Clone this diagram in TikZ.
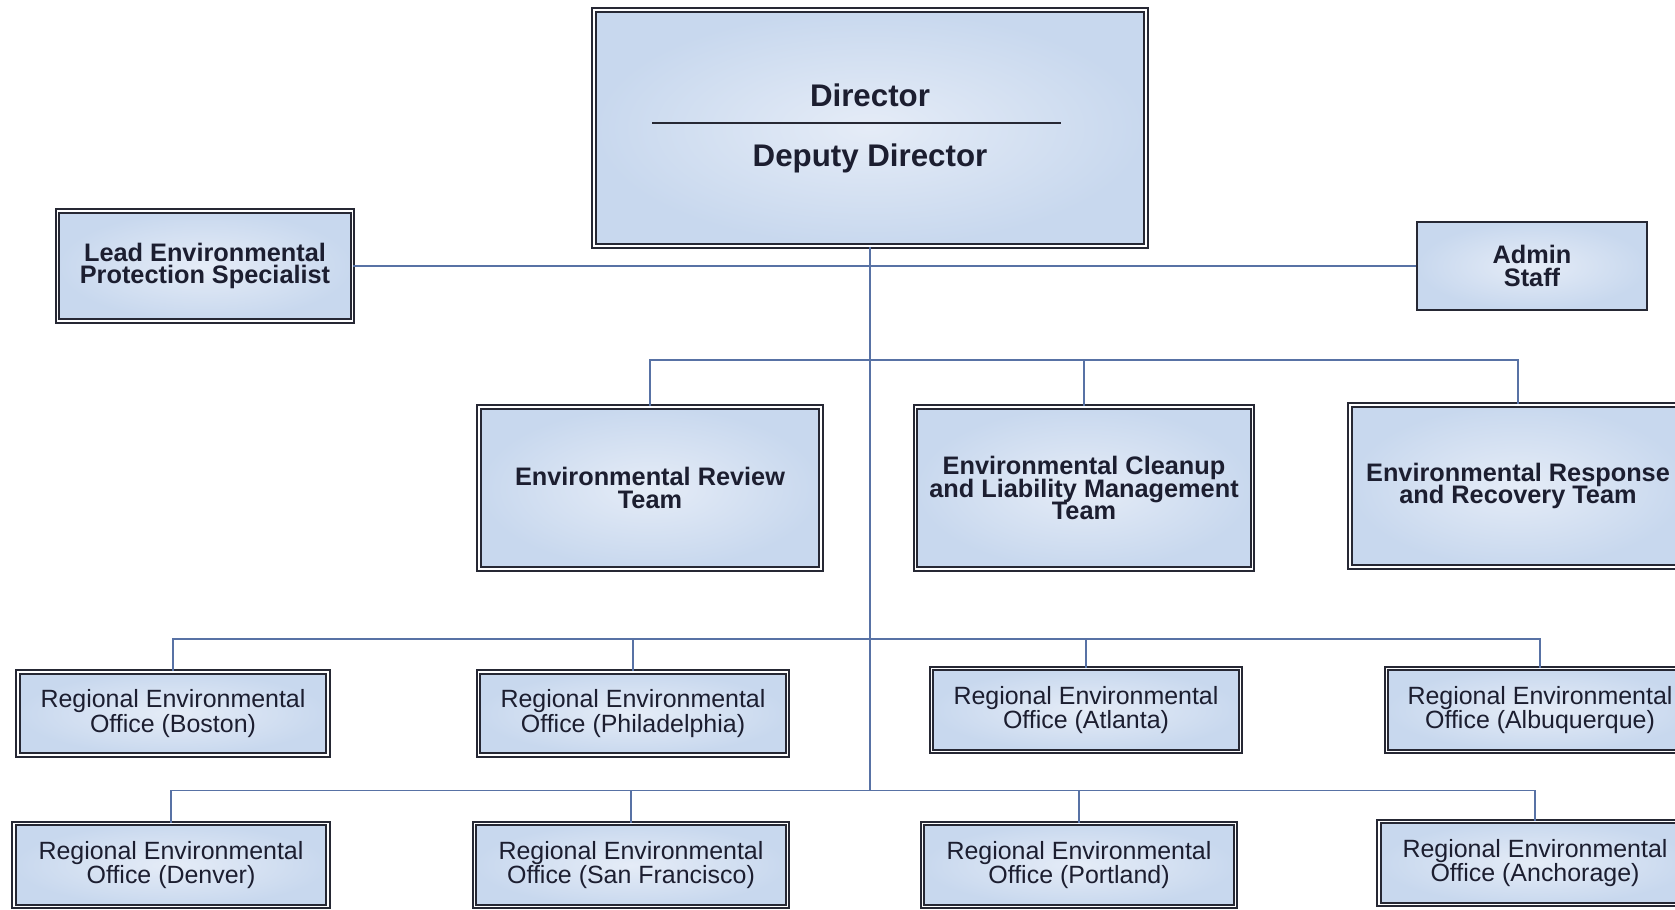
\documentclass[tikz,border=0pt]{standalone}
\usepackage{fontspec}
\setmainfont{Liberation Sans}
\definecolor{boxedge}{RGB}{38,40,52}
\definecolor{boxin}{RGB}{229,236,247}
\definecolor{boxout}{RGB}{200,216,238}
\definecolor{connblue}{RGB}{88,114,165}
\definecolor{inktext}{RGB}{28,30,48}
\newcommand\tightlines{\lineskiplimit=-20pt\relax}
\tikzset{
  orgbox/.style={draw=boxedge, line width=0.5pt, double=white, double distance=0.45pt,
    inner color=boxin, outer color=boxout, align=center, text=inktext, inner sep=1pt},
  plainbox/.style={draw=boxedge, line width=0.6pt,
    inner color=boxin, outer color=boxout, align=center, text=inktext, inner sep=1pt},
  teamfont/.style={font=\fontsize{7.2}{6.3}\selectfont\bfseries\tightlines},
  officefont/.style={font=\fontsize{7.1}{7.0}\selectfont\tightlines},
  conn/.style={draw=connblue, line width=0.45pt}
}
\begin{document}
\begin{tikzpicture}
\clip (0,0) rectangle (16.75,-9.10);
\fill[white] (0,0) rectangle (16.75,-9.10);
% top of the chart
\node[orgbox, minimum width=5.52cm, minimum height=2.36cm] (dir) at (8.70,-1.28) {};
\node[text=inktext, font=\fontsize{8.9}{10}\selectfont\bfseries] (dirname) at (8.70,-0.95) {Director};
\node[text=inktext, font=\fontsize{8.9}{10}\selectfont\bfseries] (depname) at (8.70,-1.58) {Deputy Director};
\draw[boxedge, line width=0.6pt] (6.52,-1.23) -- (10.61,-1.23);
\node[orgbox, teamfont, minimum width=2.95cm, minimum height=1.10cm] (lead) at (2.05,-2.66) {Lead Environmental\\Protection Specialist};
\node[plainbox, teamfont, minimum width=2.30cm, minimum height=0.88cm] (admin) at (15.32,-2.66) {Admin\\Staff};
% teams
\node[orgbox, teamfont, minimum width=3.42cm, minimum height=1.62cm] (review) at (6.50,-4.88) {Environmental Review\\Team};
\node[orgbox, teamfont, minimum width=3.37cm, minimum height=1.62cm] (cleanup) at (10.84,-4.88) {Environmental Cleanup\\and Liability Management\\Team};
\node[orgbox, teamfont, minimum width=3.36cm, minimum height=1.62cm] (response) at (15.18,-4.86) {Environmental Response\\and Recovery Team};
% regional offices
\node[orgbox, officefont, minimum width=3.10cm, minimum height=0.83cm] (boston) at (1.73,-7.135) {Regional Environmental\\Office (Boston)};
\node[orgbox, officefont, minimum width=3.09cm, minimum height=0.83cm] (phila) at (6.33,-7.135) {Regional Environmental\\Office (Philadelphia)};
\node[orgbox, officefont, minimum width=3.09cm, minimum height=0.83cm] (atlanta) at (10.86,-7.10) {Regional Environmental\\Office (Atlanta)};
\node[orgbox, officefont, minimum width=3.07cm, minimum height=0.83cm] (albq) at (15.40,-7.10) {Regional Environmental\\Office (Albuquerque)};
\node[orgbox, officefont, minimum width=3.14cm, minimum height=0.83cm] (denver) at (1.71,-8.65) {Regional Environmental\\Office (Denver)};
\node[orgbox, officefont, minimum width=3.13cm, minimum height=0.83cm] (sanfran) at (6.31,-8.65) {Regional Environmental\\Office (San Francisco)};
\node[orgbox, officefont, minimum width=3.13cm, minimum height=0.83cm] (portland) at (10.79,-8.65) {Regional Environmental\\Office (Portland)};
\node[orgbox, officefont, minimum width=3.12cm, minimum height=0.83cm] (anchor) at (15.35,-8.63) {Regional Environmental\\Office (Anchorage)};
% connectors
\coordinate (teambus) at (8.70,-3.60);
\coordinate (rowonebus) at (8.70,-6.39);
\coordinate (rowtwobus) at (8.70,-7.905);
\draw[conn] (dir.south) -- (rowtwobus);
\draw[conn] (lead.east) -- (lead.east -| admin.west);
\draw[conn] (review.north) |- (teambus) -| (response.north);
\draw[conn] (cleanup.north) -- (cleanup.north |- teambus);
\draw[conn] (boston.north) |- (rowonebus) -| (albq.north);
\draw[conn] (phila.north) -- (phila.north |- rowonebus);
\draw[conn] (atlanta.north) -- (atlanta.north |- rowonebus);
\draw[conn] (denver.north) |- (rowtwobus) -| (anchor.north);
\draw[conn] (sanfran.north) -- (sanfran.north |- rowtwobus);
\draw[conn] (portland.north) -- (portland.north |- rowtwobus);
\end{tikzpicture}
\end{document}
